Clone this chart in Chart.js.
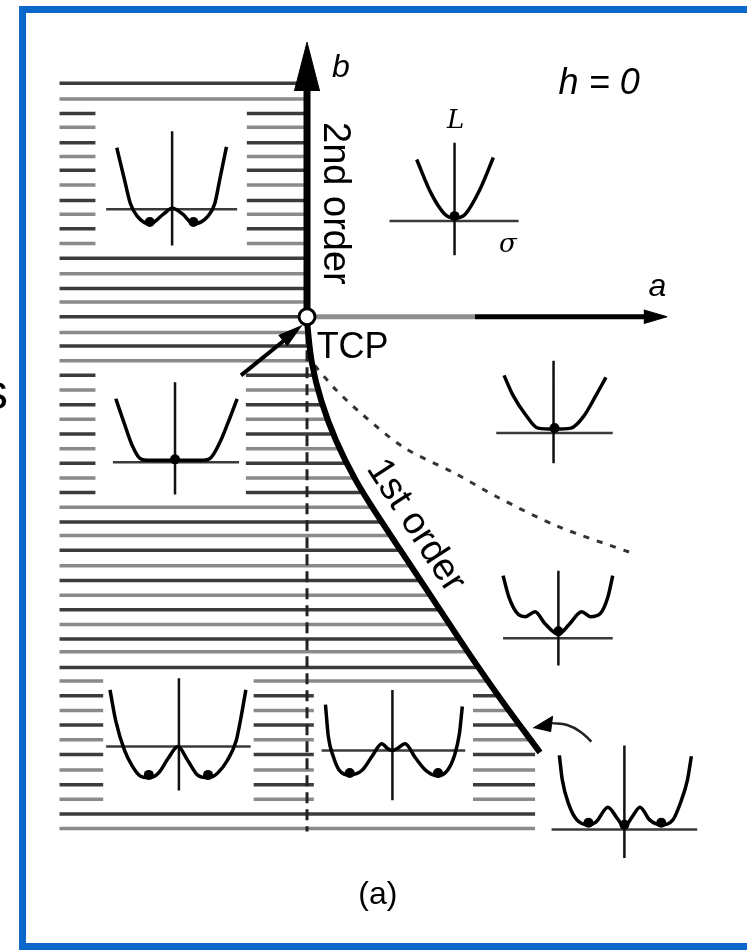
<!DOCTYPE html>
<html><head><meta charset="utf-8">
<script src="https://cdn.jsdelivr.net/npm/chart.js@4.4.0/dist/chart.umd.min.js"></script>
<style>html,body{margin:0;padding:0;background:#fff;overflow:hidden}canvas{display:block}</style>
</head><body>
<canvas id="c" width="747" height="950"></canvas>
<script>
// ---- data, in (a, b) units with the tricritical point at the origin ----
const hatchB = [239,223,208,194,178,164,150,135,119,105,90,75,60,44,29,15,0,-16,-30,-45,-60,-75,-90,-105,-120,-135,-150,-165,-180,-195,-210,-224,-239,-255,-270,-285,-300,-315,-330,-343,-359,-373,-388,-403,-418,-433,-448,-464,-479,-494,-509,-524];
const hatchLeftA = -255;
const hatchCapA = 235;
// [aMin, aMax, bMin, bMax] windows cut out of the hatching for the insets
const insetGaps = [[-218,-62,75,208],[-218,-63,-180,-60],[-210,-55,-494,-373],[7,171,-494,-388]];

const firstOrderA = [0,5,15,30,50,75,105,135,165,200,240];
const firstOrderB = [-5,-47,-87,-127,-167,-207,-252,-297,-342,-392,-446];
const spinodalA = [8,30,57,100,152,195,257,335];
const spinodalB = [-50,-75,-100,-134,-160,-184,-214,-242];

// potential curves of the insets
const potTL_a = [-196,-188,-182,-175,-162,-148,-139,-128,-117,-102,-95,-90,-83];
const potTL_b = [173,140,116,103,95,105,111,105,95,103,116,140,174];
const potTM_a = [113,128,142,152,163,178,192];
const potTM_b = [161,126,105,101,105,130,163];
const potML_a = [-197,-188,-180,-172,-162,-136,-110,-100,-90,-82,-72];
const potML_b = [-84,-110,-132,-145,-147,-147,-147,-145,-129,-110,-84];
const potMR_a = [203,212,225,238,255,272,285,298,308];
const potMR_b = [-60,-80,-100,-114,-115,-114,-102,-80,-62];
const potR5_a = [202,208,218,225,235,245,259,270,283,292,302,310,315];
const potR5_b = [-265,-287,-305,-307,-302,-314,-325,-315,-302,-307,-304,-287,-265];
const potBL_a = [-203,-197,-188,-180,-172,-163,-153,-143,-133,-123,-113,-102,-92,-82,-73,-68,-63];
const potBL_b = [-382,-414,-444,-460,-470,-472,-467,-452,-440,-454,-469,-472,-467,-454,-434,-410,-382];
const potBM_a = [19,22,27,33,44,57,67,77,83,88,93,101,112,123,135,145,152,157,160];
const potBM_b = [-397,-430,-450,-464,-469,-464,-450,-437,-442,-444,-442,-437,-452,-465,-470,-464,-449,-427,-399];
const potBR_a = [260,263,270,278,290,298,310,320,327,335,343,353,365,377,385,392,396];
const potBR_b = [-449,-474,-500,-515,-520,-517,-502,-514,-522,-512,-502,-515,-520,-515,-497,-474,-450];

// inset axes: horizontal [a1, a2, b], vertical [a, b1, b2]
const insetHAxes = [[-207,-72,110],[85,218,98],[-200,-70,-149],[195,315,-119],[202,315,-329],[-207,-58,-440],[15,163,-444],[252,402,-525]];
const insetVAxes = [[-139,73,190],[152,63,178],[-136,-182,-67],[254,-150,-45],[259,-357,-260],[-132,-485,-370],[88,-495,-382],[327,-554,-439]];

// equilibrium minima (dots)
const minimaA = [-162,-117,152,-136,255,259,-163,-102,44,135,290,327,365];
const minimaB = [97,97,103,-146,-114,-322,-469,-469,-467,-467,-518,-520,-518];

// main axes and arrows
const bAxis = [[0,0],[0,240]];
const bHead = [[-13,231],[0,281],[13,231]];
const aAxisGrey = [[0,0],[173,0]];
const aAxisBlack = [[173,0],[350,0]];
const aHead = [[347,-7],[371,0],[347,7]];
const tcpArrow = [[-68,-60],[-22,-23]];
const tcpHead = [[-5,-9],[-29,-19],[-20,-30]];
const curvedArrowA = [293,282,268,252];
const curvedArrowB = [-435,-425,-418,-416];
const curvedHead = [[233,-421],[253,-409],[251,-425]];
const vDashed = [[0,-17],[0,-527]];

// text
const labelText = ['b','h = 0','a','2nd order','1st order','TCP','L','\u03C3','(a)','s'];
const labelA = [35,301,361,28,112,47,153,207,73,-321];
const labelB = [255,238,30,116,-214,-32,200,73,-592,-80];

// ---- build ----
const P = (a, b) => a.map((x, i) => ({x, y: b[i]}));
const Q = arr => arr.map(p => ({x: p[0], y: p[1]}));
function firstOrderAt(b) {
  if (b >= firstOrderB[0]) return firstOrderA[0];
  for (let i = 1; i < firstOrderB.length; i++) {
    if (b >= firstOrderB[i]) {
      const t = (b - firstOrderB[i-1]) / (firstOrderB[i] - firstOrderB[i-1]);
      return firstOrderA[i-1] + t * (firstOrderA[i] - firstOrderA[i-1]);
    }
  }
  return Infinity;
}
function hatchData(parity) {
  const pts = [];
  hatchB.forEach((b, idx) => {
    if (idx % 2 !== parity) return;
    const right = b > 0 ? 0 : Math.min(firstOrderAt(b), hatchCapA);
    let spans = [[hatchLeftA, right]];
    insetGaps.forEach(g => {
      if (b >= g[2] && b <= g[3]) {
        const out = [];
        spans.forEach(s => {
          if (g[1] <= s[0] || g[0] >= s[1]) { out.push(s); return; }
          if (g[0] > s[0]) out.push([s[0], g[0]]);
          if (g[1] < s[1]) out.push([g[1], s[1]]);
        });
        spans = out;
      }
    });
    spans.forEach(s => { pts.push({x: s[0], y: b}, {x: s[1], y: b}, {x: s[1], y: null}); });
  });
  return pts;
}
function axesData(h) {
  const pts = [];
  h.forEach(r => pts.push({x: r[0], y: r[2]}, {x: r[1], y: r[2]}, {x: r[1], y: null}));
  return pts;
}
function vAxesData(v) {
  const pts = [];
  v.forEach(r => pts.push({x: r[0], y: r[1]}, {x: r[0], y: r[2]}, {x: r[0], y: null}));
  return pts;
}
const line = (data, color, width, order, extra) => Object.assign({
  data, showLine: true, borderColor: color, borderWidth: width, pointRadius: 0,
  pointHoverRadius: 0, fill: false, tension: 0, order, borderCapStyle: 'butt', spanGaps: false
}, extra || {});
const head = (data, order) => line(data, '#000', 1, order, {fill: 'shape', backgroundColor: '#000'});
const curve = (a, b) => line(P(a, b), '#000', 3.5, 4, {cubicInterpolationMode: 'monotone'});

const datasets = [
  line(hatchData(0), '#3c3c3c', 3.5, 10),
  line(hatchData(1), '#8a8a8a', 3.5, 10),
  line(vAxesData(insetVAxes), '#111', 2.5, 6),
  line(axesData(insetHAxes), '#3a3a3a', 2.5, 6),
  curve(potTL_a, potTL_b), curve(potTM_a, potTM_b), curve(potML_a, potML_b), curve(potMR_a, potMR_b),
  curve(potR5_a, potR5_b), curve(potBL_a, potBL_b), curve(potBM_a, potBM_b), curve(potBR_a, potBR_b),
  line(Q(vDashed), '#222', 3, 5, {borderDash: [11, 6]}),
  line(P(spinodalA, spinodalB), '#333', 3, 5, {borderDash: [6, 8], tension: 0.3}),
  line(P(firstOrderA, firstOrderB), '#000', 6, 3, {tension: 0.35}),
  line(Q(aAxisGrey), '#8f8f8f', 5, 3),
  line(Q(aAxisBlack), '#000', 5, 3),
  head(Q(aHead), 3),
  line(Q(bAxis), '#000', 7, 2),
  head(Q(bHead), 2),
  line(Q(tcpArrow), '#000', 4, 2),
  head(Q(tcpHead), 2),
  line(P(curvedArrowA, curvedArrowB), '#222', 2.5, 2, {tension: 0.4}),
  head(Q(curvedHead), 2),
  {data: P(minimaA, minimaB), showLine: false, pointRadius: 5, pointHoverRadius: 5,
   pointBackgroundColor: '#000', pointBorderWidth: 0, order: 1},
  {data: [{x: 0, y: 0}], showLine: false, pointRadius: 8, pointHoverRadius: 8,
   pointBackgroundColor: '#fff', pointBorderColor: '#000', pointBorderWidth: 3, order: 0}
];

const labelStyle = [
  {font: 'italic 32px "Liberation Sans"', rot: 0},
  {font: 'italic 36px "Liberation Sans"', rot: 0},
  {font: 'italic 32px "Liberation Sans"', rot: 0},
  {font: '38px "Liberation Sans"', rot: 90},
  {font: '38px "Liberation Sans"', rot: 57},
  {font: '36px "Liberation Sans"', rot: 0},
  {font: 'italic 26px "DejaVu Serif"', rot: 0},
  {font: 'italic 26px "DejaVu Serif"', rot: 0},
  {font: '32px "Liberation Sans"', rot: 0},
  {font: '50px "Liberation Sans"', rot: 0}
];

const framePlugin = {
  id: 'frame',
  beforeDraw(chart) {
    const ctx = chart.ctx;
    ctx.save();
    ctx.fillStyle = '#fff';
    ctx.fillRect(0, 0, chart.width, chart.height);
    ctx.strokeStyle = '#0b67c9';
    ctx.lineWidth = 7;
    ctx.strokeRect(22.5, 9.5, 760, 937);
    ctx.restore();
  }
};
const labelPlugin = {
  id: 'labels',
  afterDatasetsDraw(chart) {
    const {ctx, scales: {x, y}} = chart;
    labelText.forEach((t, i) => {
      const s = labelStyle[i];
      ctx.save();
      ctx.translate(x.getPixelForValue(labelA[i]), y.getPixelForValue(labelB[i]));
      ctx.rotate(s.rot * Math.PI / 180);
      ctx.font = s.font;
      ctx.fillStyle = '#000';
      ctx.textAlign = 'center';
      ctx.textBaseline = 'middle';
      ctx.fillText(t, 0, 0);
      ctx.restore();
    });
  }
};

new Chart(document.getElementById('c'), {
  type: 'scatter',
  data: {datasets},
  options: {
    responsive: false, animation: false, devicePixelRatio: 1,
    layout: {padding: 0},
    plugins: {legend: {display: false}, tooltip: {enabled: false}},
    events: [],
    scales: {
      x: {type: 'linear', min: -305, max: 442, display: false},
      y: {type: 'linear', min: -637, max: 313, display: false}
    }
  },
  plugins: [framePlugin, labelPlugin]
});
</script>
</body></html>
